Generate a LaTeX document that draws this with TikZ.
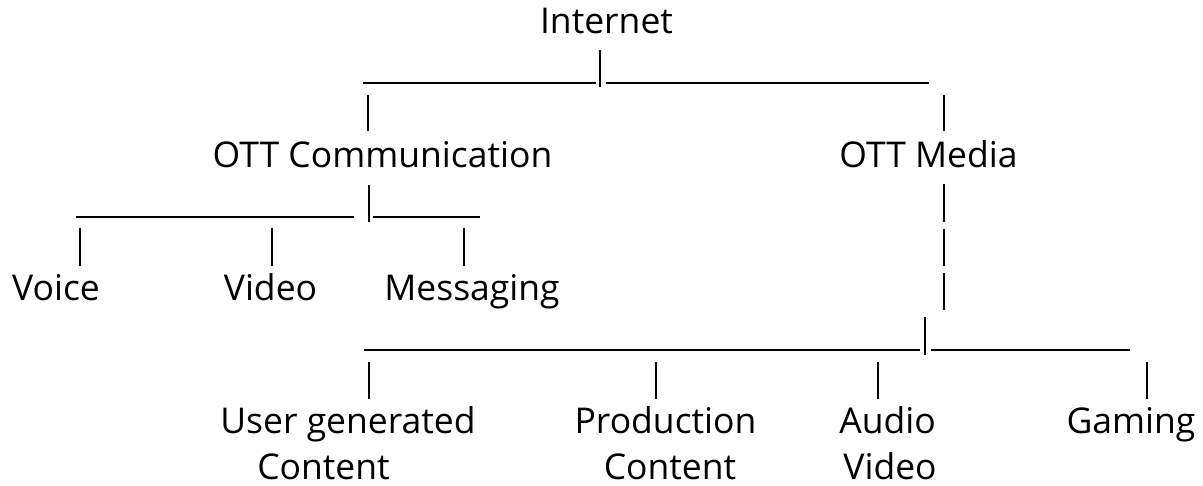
\documentclass[tikz,border=0pt]{standalone}
\usepackage{fontspec}
\setmainfont{Open Sans}
\begin{document}
\begin{tikzpicture}[x=1pt,y=-1pt,
  lbl/.style={anchor=base,inner sep=0pt,font=\fontsize{35.5}{42}\selectfont},
  bar/.style={line width=2.6pt},
  pipe/.style={line width=2.6pt}]
\useasboundingbox[fill=white] (0,0) rectangle (1203,486);

% labels
\node[lbl] (inet)  at (606.5,34)  {Internet};
\node[lbl] (comm)  at (382.5,168) {OTT Communication};
\node[lbl] (media) at (928.5,168) {OTT Media};
\node[lbl] (voice) at (56,301)    {Voice};
\node[lbl] (video) at (270.5,301) {Video};
\node[lbl] (msg)   at (472,301)   {Messaging};
\node[lbl] (ugc1)  at (348,434)   {User generated};
\node[lbl] (ugc2)  at (323.5,479) {Content};
\node[lbl] (prod1) at (665.5,434) {Production};
\node[lbl] (prod2) at (670,479)   {Content};
\node[lbl] (av1)   at (887.5,434) {Audio};
\node[lbl] (av2)   at (890,479)   {Video};
\node[lbl] (game)  at (1131,434)  {Gaming};

% first level: Internet branch
\coordinate (b1l) at (363,83);   \coordinate (b1m) at (596,83);
\coordinate (b1n) at (606,83);   \coordinate (b1r) at (929,83);
\coordinate (t1a) at (600,50);   \coordinate (t1b) at (600,87);
\draw[bar] (b1l) -- (b1m);
\draw[bar] (b1n) -- (b1r);
\draw[pipe] (t1a) -- (t1b);
\coordinate (c1a) at (368,95);   \coordinate (c1b) at (368,131);
\coordinate (m1a) at (944,95);   \coordinate (m1b) at (944,131);
\draw[pipe] (c1a) -- (c1b);
\draw[pipe] (m1a) -- (m1b);

% second level: communication branch
\coordinate (b2l) at (76,217);   \coordinate (b2m) at (354,217);
\coordinate (b2n) at (373,217);  \coordinate (b2r) at (480,217);
\coordinate (t2a) at (369,185);  \coordinate (t2b) at (369,222);
\draw[bar] (b2l) -- (b2m);
\draw[bar] (b2n) -- (b2r);
\draw[pipe] (t2a) -- (t2b);
\coordinate (v1a) at (80,228);   \coordinate (v1b) at (80,266);
\coordinate (v2a) at (272,228);  \coordinate (v2b) at (272,266);
\coordinate (v3a) at (464,228);  \coordinate (v3b) at (464,266);
\draw[pipe] (v1a) -- (v1b);
\draw[pipe] (v2a) -- (v2b);
\draw[pipe] (v3a) -- (v3b);

% media stem
\coordinate (m2a) at (944,184);  \coordinate (m2b) at (944,222);
\coordinate (m3a) at (944,229);  \coordinate (m3b) at (944,266);
\coordinate (m4a) at (944,273);  \coordinate (m4b) at (944,310);
\draw[pipe] (m2a) -- (m2b);
\draw[pipe] (m3a) -- (m3b);
\draw[pipe] (m4a) -- (m4b);

% third level: media branch
\coordinate (b3l) at (364,350);  \coordinate (b3m) at (920,350);
\coordinate (b3n) at (931,350);  \coordinate (b3r) at (1130,350);
\coordinate (t3a) at (925,317);  \coordinate (t3b) at (925,355);
\draw[bar] (b3l) -- (b3m);
\draw[bar] (b3n) -- (b3r);
\draw[pipe] (t3a) -- (t3b);
\coordinate (u1a) at (369,362);  \coordinate (u1b) at (369,399);
\coordinate (u2a) at (656,362);  \coordinate (u2b) at (656,399);
\coordinate (u3a) at (878,362);  \coordinate (u3b) at (878,399);
\coordinate (u4a) at (1147,362); \coordinate (u4b) at (1147,399);
\draw[pipe] (u1a) -- (u1b);
\draw[pipe] (u2a) -- (u2b);
\draw[pipe] (u3a) -- (u3b);
\draw[pipe] (u4a) -- (u4b);
\end{tikzpicture}
\end{document}
